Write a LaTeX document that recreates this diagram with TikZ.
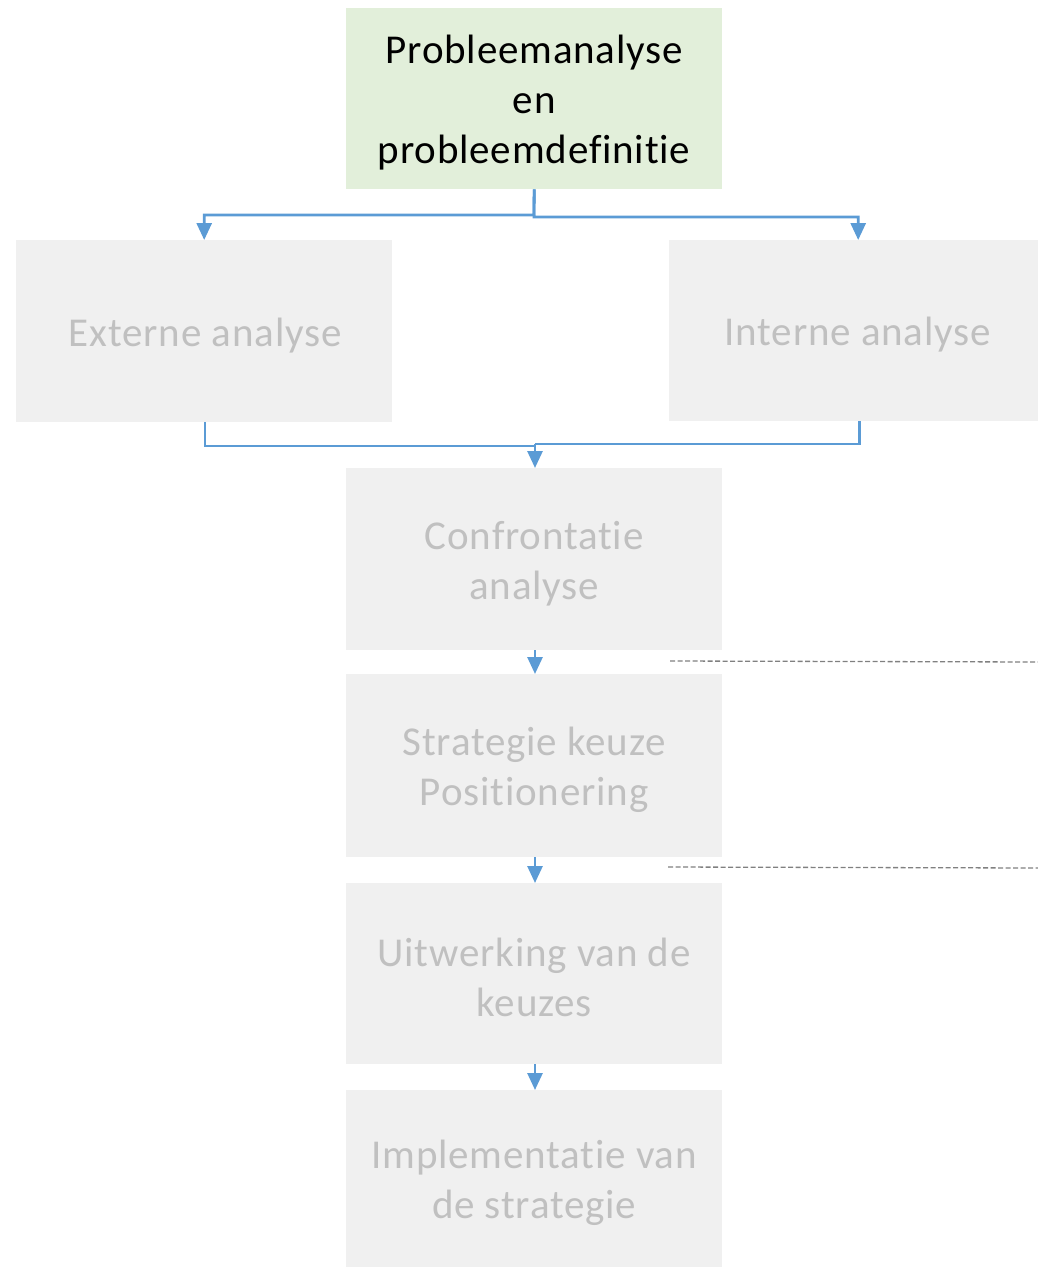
\documentclass[tikz,border=0pt]{standalone}
\usepackage{fontspec}
\setmainfont{Carlito}[Ligatures={NoCommon}, LetterSpace=2]
\usetikzlibrary{arrows.meta}
\definecolor{boxgray}{HTML}{F0F0F0}
\definecolor{boxgreen}{HTML}{E2EFDA}
\definecolor{txtgray}{HTML}{C0C0C0}
\definecolor{linkblue}{HTML}{5B9BD5}
\definecolor{dashgray}{HTML}{808080}
\tikzset{
  px/.style={x=1pt,y=-1pt},
  stage/.style={fill=boxgray, draw=none, inner sep=0pt, anchor=north west},
  firststage/.style={stage, fill=boxgreen},
  stagetext/.style={text=txtgray, align=center, inner sep=0pt,
     font=\fontsize{41}{50}\selectfont, yshift=-4pt},
  firsttext/.style={stagetext, text=black},
  link/.style={draw=linkblue, line width=2.8pt, -{Triangle[length=17pt,width=15pt]}},
  plainlink/.style={draw=linkblue, line width=2.8pt},
  divider/.style={draw=dashgray, line width=1.3pt, dash pattern=on 5pt off 2.5pt},
}
\begin{document}
\begin{tikzpicture}[px]
\useasboundingbox (0,0) rectangle (1038,1267);
\node[firststage, minimum width=376pt, minimum height=181pt] (p) at (346,8) {};
\node[stage, minimum width=376pt, minimum height=182pt] (ext) at (16,240) {};
\node[stage, minimum width=369pt, minimum height=181pt] (int) at (669,240) {};
\node[stage, minimum width=376pt, minimum height=182pt] (conf) at (346,468) {};
\node[stage, minimum width=376pt, minimum height=183pt] (strat) at (346,674) {};
\node[stage, minimum width=376pt, minimum height=181pt] (uitw) at (346,883) {};
\node[stage, minimum width=376pt, minimum height=177pt] (impl) at (346,1090) {};

\node[firsttext] (pT) at (p.center) {Probleemanalyse\\en\\probleemdefinitie};
\node[stagetext] (extT) at ([xshift=1pt]ext.center) {Externe analyse};
\node[stagetext] (intT) at ([xshift=4pt]int.center) {Interne analyse};
\node[stagetext] (confT) at (conf.center) {Confrontatie\\analyse};
\node[stagetext] (stratT) at (strat.center) {Strategie keuze\\Positionering};
\node[stagetext] (uitwT) at (uitw.center) {Uitwerking van de\\keuzes};
\node[stagetext] (implT) at (impl.center) {Implementatie van\\de strategie};

\coordinate (pl) at (534,215);
\coordinate (pr) at (534,217);
\draw[link] (p.south) -- (pl) -| (ext.north);
\draw[link] (p.south) -- (pr) -| ([xshift=4.5pt]int.north);

\coordinate (jm) at (535,446);
\coordinate (jr) at (535,444);
\draw[plainlink] (ext.south -| 205,0) |- (jm);
\draw[plainlink] ([xshift=6pt]int.south) |- (jr);
\draw[link] (jr) -- (conf.north -| 535,0);

\draw[link] (conf.south -| 535,0) -- (strat.north -| 535,0);
\draw[link] (strat.south -| 535,0) -- (uitw.north -| 535,0);
\draw[link] (uitw.south -| 535,0) -- (impl.north -| 535,0);

\coordinate (d1a) at (670,661);
\coordinate (d1b) at (1038,662);
\coordinate (d2a) at (668,867);
\coordinate (d2b) at (1038,868);
\draw[divider] (d1a) -- (d1b);
\draw[divider] (d2a) -- (d2b);
\end{tikzpicture}
\end{document}
